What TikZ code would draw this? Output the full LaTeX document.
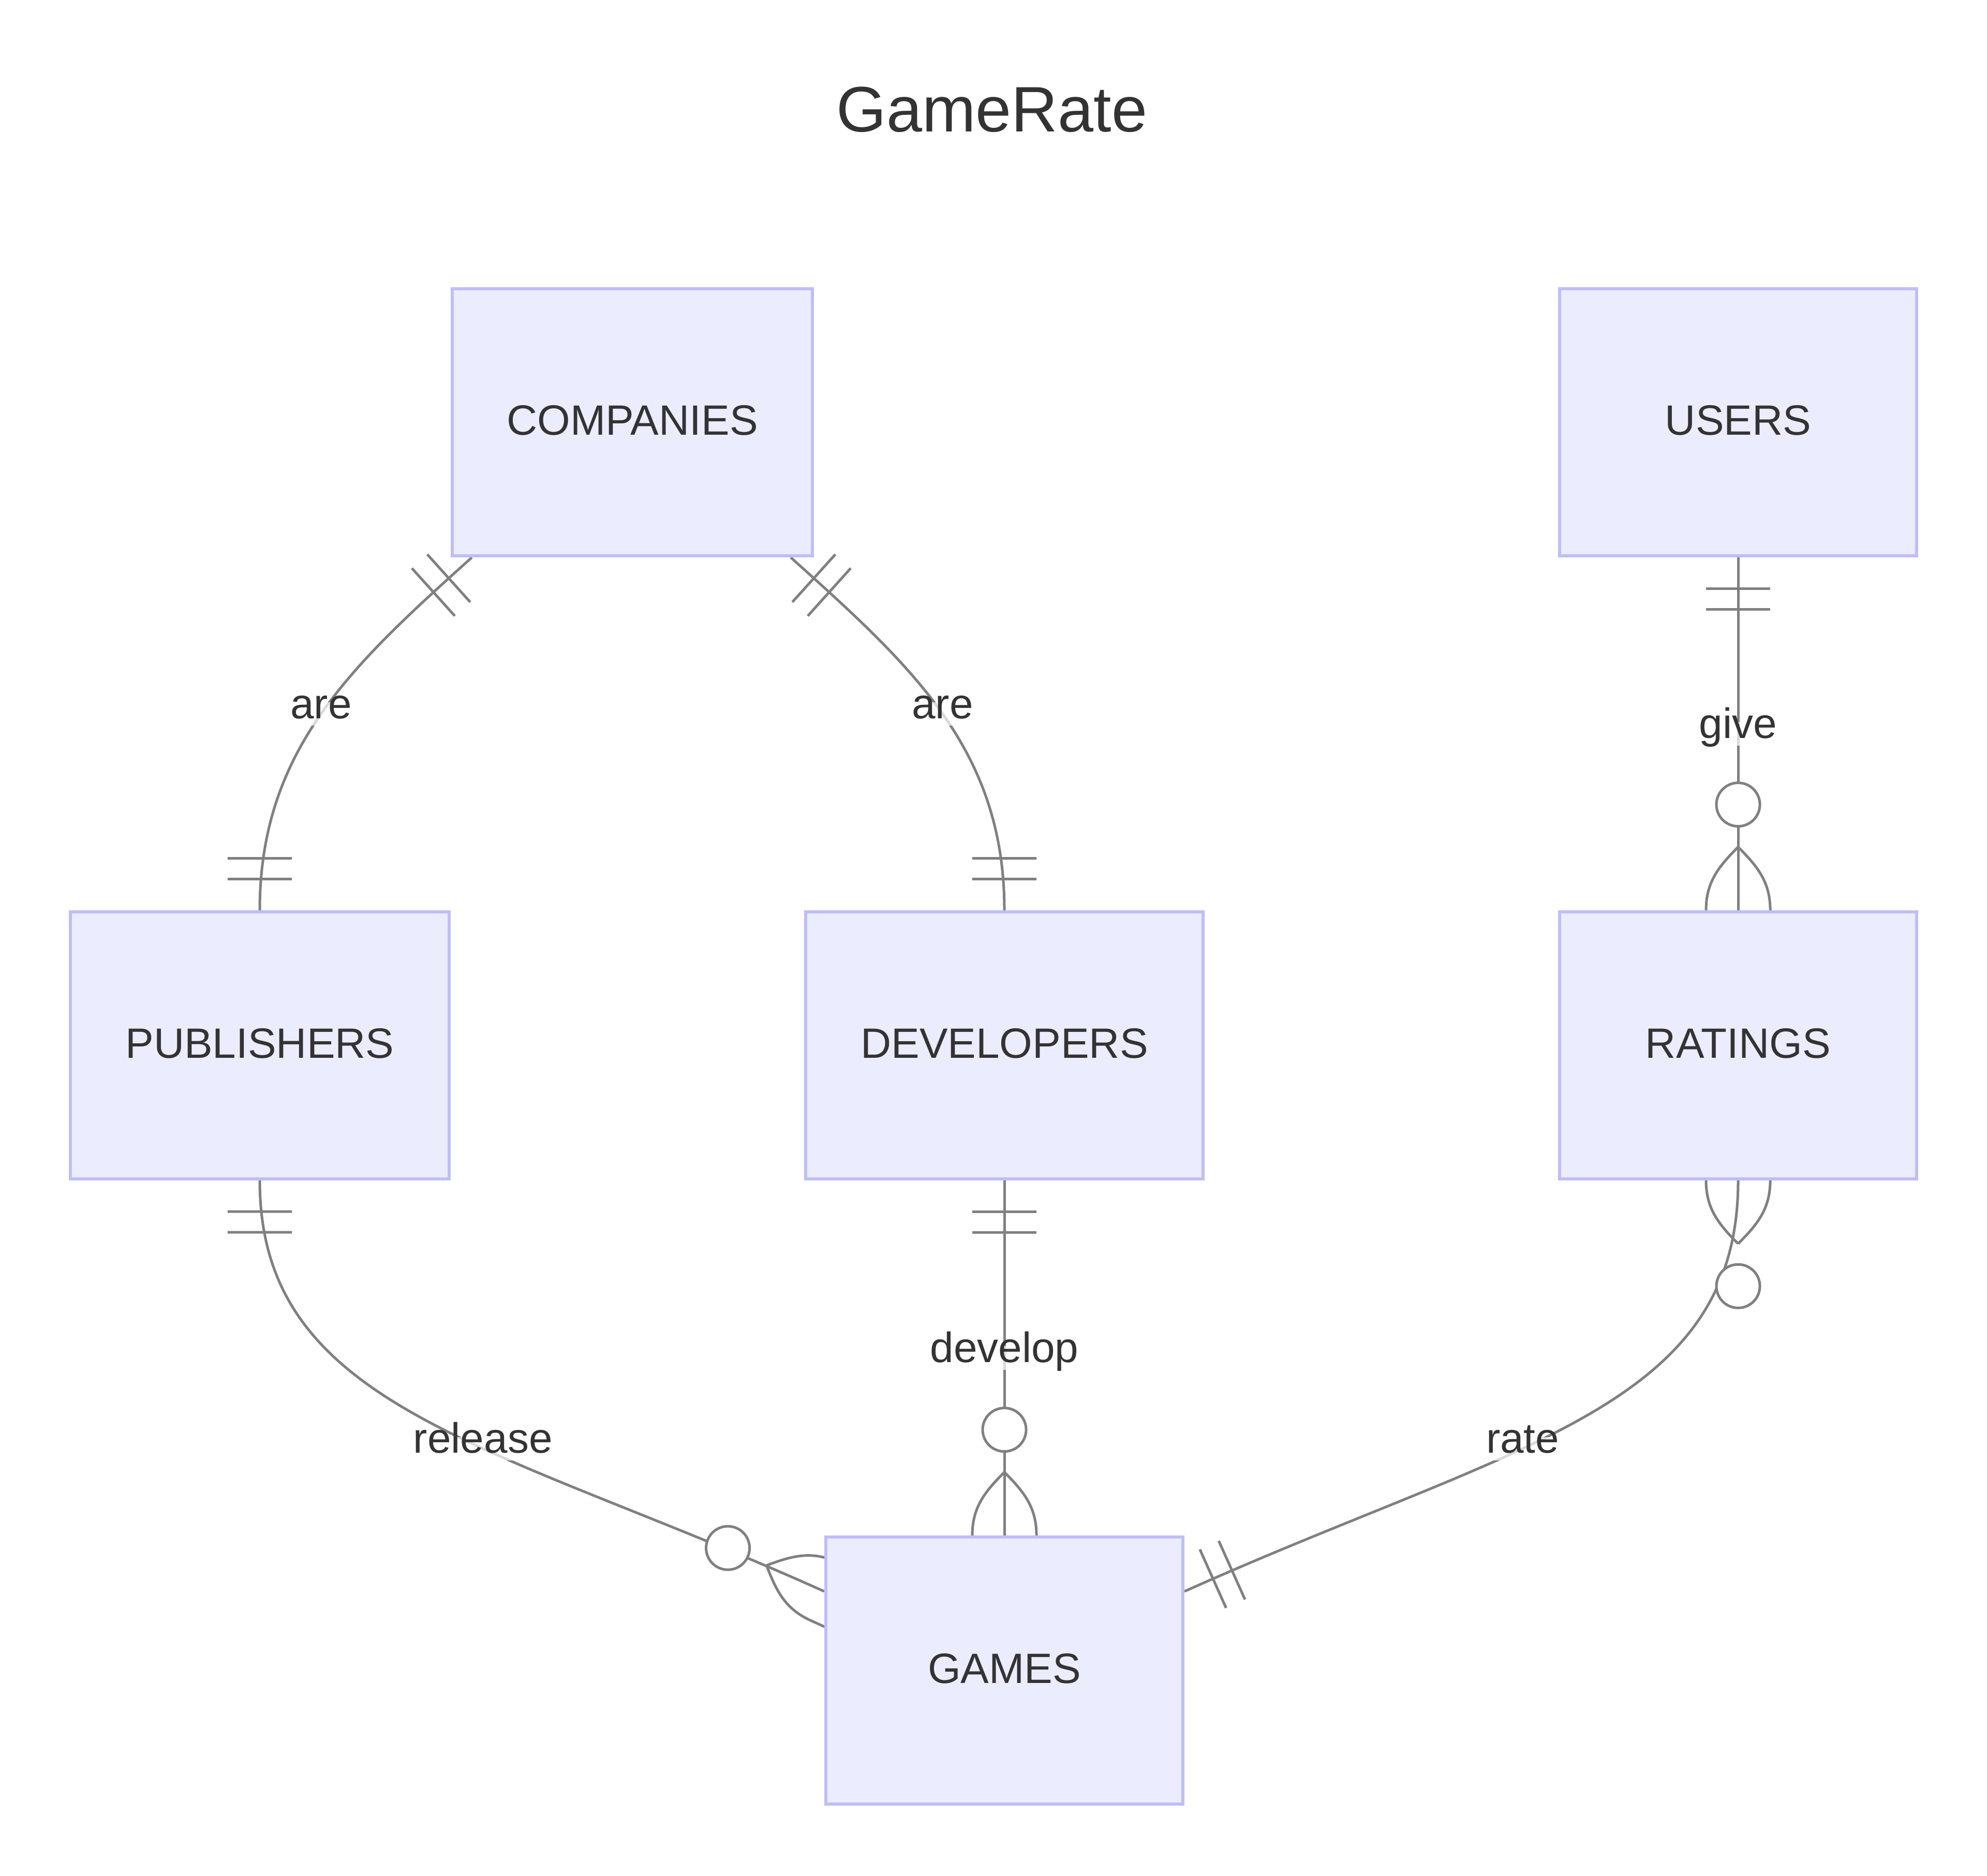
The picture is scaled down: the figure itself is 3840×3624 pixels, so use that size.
\documentclass[tikz,border=0pt]{standalone}
\usepackage{fontspec}
\setmainfont{Liberation Sans}
\usetikzlibrary{calc, decorations.markings, backgrounds}

\definecolor{entfill}{HTML}{ECECFF}
\definecolor{entline}{HTML}{BEBEF8}
\definecolor{relline}{HTML}{808080}
\definecolor{txt}{HTML}{333333}

% cardinality marks, drawn in the frame of the line (x runs into the box)
\newcommand{\erone}{%
	\draw[ertip] (-0.6cm,-0.62cm) -- (-0.6cm,0.62cm);
	\draw[ertip] (-1cm,-0.62cm) -- (-1cm,0.62cm);}
\newcommand{\ermany}{%
	\draw[ertip] (-1.22cm,0) .. controls (-0.84cm,0.38cm) and (-0.54cm,0.62cm) .. (0,0.62cm) -- (0.4cm,0.62cm);
	\draw[ertip] (-1.22cm,0) .. controls (-0.84cm,-0.38cm) and (-0.54cm,-0.62cm) .. (0,-0.62cm) -- (0.4cm,-0.62cm);
	\draw[ertip, fill=white] (-2.04cm,0) circle (0.42cm);}

\begin{document}
\begin{tikzpicture}[x=0.01cm, y=0.01cm,
		every node/.style={text=txt, font=\fontsize{23.3}{28}\selectfont},
		entity/.style={draw=entline, fill=entfill, line width=0.06cm, minimum height=5.16cm, text depth=0.25em},
		rel/.style={color=relline, line width=0.05cm},
		ertip/.style={draw=relline, line width=0.05cm},
		lbl/.style={fill=white, fill opacity=0.7, text opacity=1, inner xsep=0.02cm, inner ysep=0.05cm, text height=0.75em, text depth=0.25em},
		onestart/.style={postaction={decoration={markings, mark=at position 0 with {\begin{scope}[xscale=-1]\erone\end{scope}}}, decorate}},
		oneend/.style={postaction={decoration={markings, mark=at position 0.9999 with {\erone}}, decorate}},
		manystart/.style={postaction={decoration={markings, mark=at position 0 with {\begin{scope}[xscale=-1]\ermany\end{scope}}}, decorate}},
		manyend/.style={postaction={decoration={markings, mark=at position 0.9999 with {\ermany}}, decorate}}]
		
		\path[use as bounding box] (0,0) rectangle (3840,3624);
		
		\node[font=\fontsize{35.3}{42}\selectfont] (title) at (1917,3412) {GameRate};
		
		\node[entity, minimum width=6.96cm] (companies) at (1222,2808) {COMPANIES};
		\node[entity, minimum width=6.9cm] (users) at (3359,2808) {USERS};
		\node[entity, minimum width=7.31cm] (publishers) at (502,1604) {PUBLISHERS};
		\node[entity, minimum width=7.68cm] (developers) at (1941,1604) {DEVELOPERS};
		\node[entity, minimum width=6.9cm] (ratings) at (3359,1604) {RATINGS};
		\node[entity, minimum width=6.9cm] (games) at (1941,396) {GAMES};
		
		\begin{pgfonlayer}{background}
		\draw[rel, onestart, oneend] ([xshift=-3.1cm]companies.south) to[out=222, in=90] node[lbl] {are} (publishers.north);
		\draw[rel, onestart, oneend] ([xshift=3.06cm]companies.south) to[out=-42, in=90] node[lbl] {are} (developers.north);
		\draw[rel, onestart, manyend] (users.south) -- node[lbl] {give} (ratings.north);
		\draw[rel, onestart, manyend] (developers.south) -- node[lbl] {develop} (games.north);
		\draw[rel, onestart, manyend] (publishers.south) .. controls (502,900) and (955,836) .. ($(games.west)+(0,153)$) node[lbl, pos=0.6] {release};
		\draw[rel, manystart, oneend] (ratings.south) .. controls (3359,900) and (2930,836) .. ($(games.east)+(0,153)$) node[lbl, pos=0.6] {rate};
		\end{pgfonlayer}
		
\end{tikzpicture}
\end{document}
